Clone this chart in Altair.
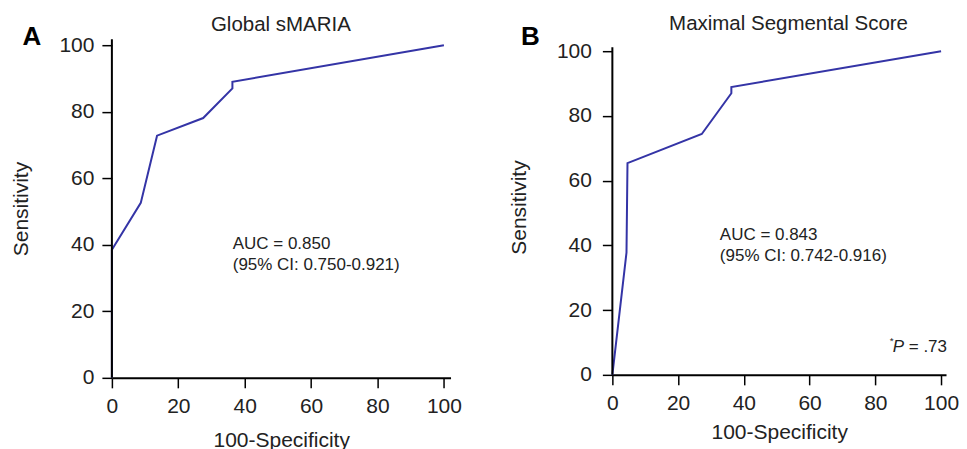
import altair as alt
import pandas as pd

FONT = "Liberation Sans"
LINE = "#3434a6"

# Panel A: Global sMARIA ROC curve
a_fpr = [0, 0, 8.7, 13.6, 27.5, 36.3, 36.3, 100]
a_sens = [0, 38.5, 52.6, 72.8, 78.1, 87, 89, 100]
# Panel B: Maximal Segmental Score ROC curve
b_fpr = [0, 4.3, 4.6, 27.2, 36.2, 36.2, 100]
b_sens = [0, 37.8, 65.4, 74.4, 87, 88.9, 100]

ticks = [0, 20, 40, 60, 80, 100]

a_title = "Global sMARIA"
b_title = "Maximal Segmental Score"
a_notes = ["AUC = 0.850", "(95% CI: 0.750-0.921)"]
b_notes = ["AUC = 0.843", "(95% CI: 0.742-0.916)"]


def panel(fpr, sens, xmax, ymax, ytop, w, h, title, title_x, title_dy,
          letter, letter_dx, letter_dy, notes, note_x, note_y1, note_y2,
          lab_pad, ttl_pad, xttl_pad):
    df = pd.DataFrame({"fpr": fpr, "sens": sens, "i": list(range(len(fpr)))})
    x = alt.X("fpr:Q", scale=alt.Scale(domain=[0, xmax], nice=False, zero=False),
              axis=alt.Axis(values=ticks, title="100-Specificity", titlePadding=xttl_pad,
                            labelPadding=8, labelFlush=False))
    y = alt.Y("sens:Q", scale=alt.Scale(domain=[0, ymax], nice=False, zero=False),
              axis=alt.Axis(values=ticks, title="Sensitivity", titlePadding=ttl_pad,
                            labelPadding=lab_pad, domain=False, labelFlush=False))
    # y-axis line, drawn through the data scales up to the axis top
    ax = pd.DataFrame({"x": [0], "y0": [0], "y1": [ytop]})
    yline = alt.Chart(ax).mark_rule(color="black", strokeWidth=2).encode(
        x=alt.X("x:Q"), y=alt.Y("y0:Q"), y2="y1:Q")
    line = alt.Chart(df).mark_line(color=LINE, strokeWidth=2).encode(x=x, y=y, order="i:Q")
    ndf = pd.DataFrame({"x": [note_x, note_x], "y": [note_y1, note_y2], "t": notes})
    note = alt.Chart(ndf).mark_text(align="left", baseline="middle", font=FONT,
                                    fontSize=17, color="#222").encode(
        x=alt.X("x:Q"), y=alt.Y("y:Q"), text="t:N")
    tdf = pd.DataFrame({"x": [title_x], "t": [title]})
    ttl = alt.Chart(tdf).mark_text(align="center", baseline="middle", font=FONT,
                                   fontSize=20.5, color="#222", dy=title_dy).encode(
        x=alt.X("x:Q"), y=alt.value(0), text="t:N")
    ldf = pd.DataFrame({"t": [letter]})
    let = alt.Chart(ldf).mark_text(align="center", baseline="middle", font=FONT,
                                   fontSize=26, fontWeight="bold", color="black",
                                   dx=letter_dx, dy=letter_dy).encode(
        x=alt.value(0), y=alt.value(0), text="t:N")
    return alt.layer(line, yline, note, ttl, let).properties(width=w, height=h)


A = panel(a_fpr, a_sens, 102, 101.8, 101.8, 339, 339, a_title, 50.9, -14,
          "A", -80, -2, a_notes, 36.4, 40.2, 33.9, 8, 27, 13)
B = panel(b_fpr, b_sens, 101.5, 103.7, 101.2, 334, 336, b_title, 53.6, -15,
          "B", -82, -2, b_notes, 32.7, 43.2, 36.7, 11, 27, 8)

pdf = pd.DataFrame({"x": [84.4], "y": [8.6]})
ast = alt.Chart(pdf).mark_text(align="left", baseline="middle", font=FONT, fontSize=10,
                               color="#222", dy=-6).encode(x="x:Q", y="y:Q", text=alt.value("*"))
pit = alt.Chart(pdf).mark_text(align="left", baseline="middle", font=FONT, fontSize=17,
                               fontStyle="italic", color="#222", dx=3).encode(
    x="x:Q", y="y:Q", text=alt.value("P"))
prest = alt.Chart(pdf).mark_text(align="left", baseline="middle", font=FONT, fontSize=17,
                                 color="#222", dx=19).encode(
    x="x:Q", y="y:Q", text=alt.value("= .73"))
B = alt.layer(B, ast, pit, prest)

chart = alt.hconcat(A, B, spacing=46).properties(
    padding={"left": 2, "top": 6, "right": 0, "bottom": 0}
).configure_view(stroke=None).configure_axis(
    grid=False, domainColor="black", domainWidth=2, tickColor="black", tickWidth=1.5,
    tickSize=10, labelFont=FONT, labelFontSize=21, labelColor="#222",
    titleFont=FONT, titleFontSize=21, titleFontWeight="normal", titleColor="#222"
)

chart.save("out.html", embed_options={"renderer": "svg", "actions": False})
